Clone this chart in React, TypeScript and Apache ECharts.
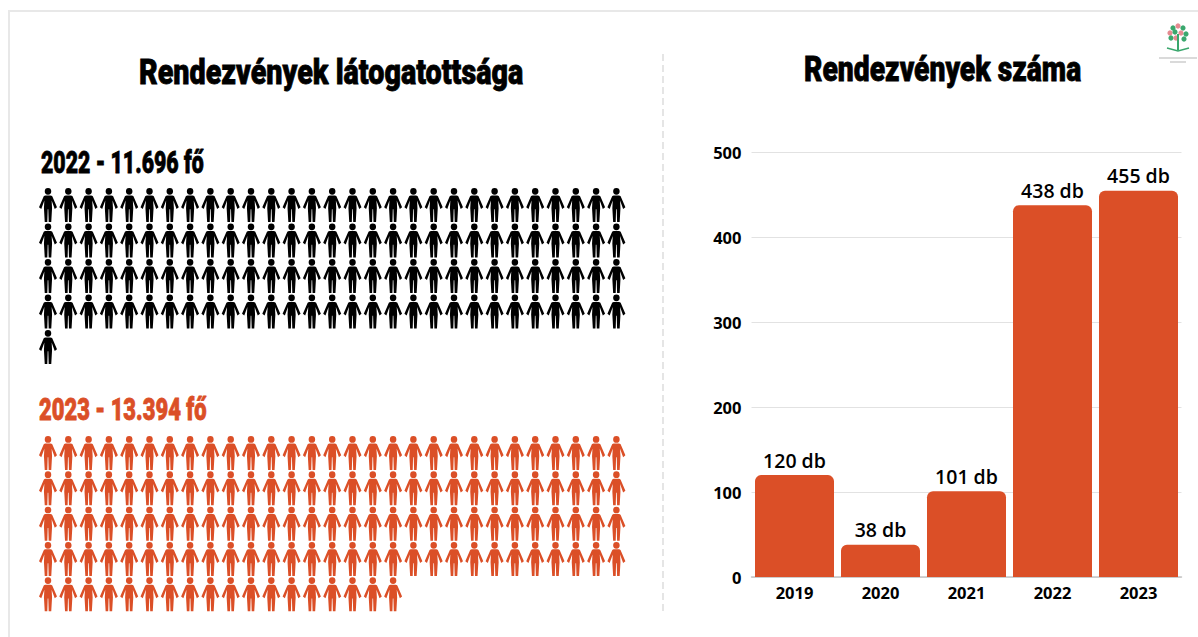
import React, { useEffect, useRef } from "react";
import * as echarts from "echarts";

const ORANGE = "#DB4F27";
const leftTitle = "Rendezvények látogatottsága";
const rightTitle = "Rendezvények száma";
const label2022 = "2022 - 11.696 fő";
const label2023 = "2023 - 13.394 fő";
const rows2022 = [29, 29, 29, 29, 1];
const rows2023 = [29, 29, 29, 29, 18];
const years = ["2019", "2020", "2021", "2022", "2023"];
const events = [120, 38, 101, 438, 455];

const PERSON =
  "path://M5.8 3.3a3.3 3.3 0 1 0 6.6 0a3.3 3.3 0 1 0 -6.6 0Z" +
  "M6.6 7.3L11.6 7.3Q12.8 7.3 13.4 8.2L18.2 19L15.9 20.8L12.8 12.4L13.2 20L12.4 33.5L9.8 33.5L9.4 21L8.8 21L8.4 33.5L5.8 33.5L5 20L5.4 12.4L2.3 20.8L0 19L4.8 8.2Q5.4 7.3 6.6 7.3Z";

const expand = (rows: number[]) =>
  rows.flatMap((n, r) => Array.from({ length: n }, (_, c) => [c, r]));

const hiddenX = (gridIndex: number) => ({
  type: "value", gridIndex, min: -0.5, max: 28.5, show: false,
});
const hiddenY = (gridIndex: number) => ({
  type: "value", gridIndex, min: -0.5, max: 4.5, inverse: true, show: false,
});

const heading = (text: string, x: number, y: number, size: number, fill: string, scaleX: number) => ({
  type: "text", x, y, scaleX,
  style: {
    text, fill, fontFamily: "Roboto", fontWeight: 900, fontSize: size, stroke: fill, lineWidth: 0.8,
    textVerticalAlign: "middle",
  },
});

const leaves: [number, number, string][] = [
  [1173, 28, "#3aa76d"], [1178, 26, "#e58a90"], [1183, 28, "#3aa76d"],
  [1170, 33, "#e58a90"], [1175, 32, "#3aa76d"], [1181, 33, "#e58a90"], [1186, 34, "#3aa76d"],
  [1171, 38, "#3aa76d"], [1176, 38, "#e58a90"], [1184, 39, "#3aa76d"],
];

export default function App() {
  const ref = useRef<HTMLDivElement>(null);
  useEffect(() => {
    const chart = echarts.init(ref.current!, undefined, { renderer: "svg" });
    chart.setOption({
      animation: false,
      backgroundColor: "#fff",
      grid: [
        { left: 37.85, top: 187.25, width: 588.7, height: 177.5 },
        { left: 37.85, top: 435.4, width: 588.7, height: 176.5 },
        { left: 751.5, top: 152.5, width: 430, height: 424.5 },
      ],
      xAxis: [
        hiddenX(0), hiddenX(1),
        {
          type: "category", gridIndex: 2, data: years,
          axisTick: { show: false },
          axisLine: { lineStyle: { color: "#c4c4c4", width: 1.5 } },
          axisLabel: { color: "#000", fontFamily: "'Open Sans'", fontWeight: "bold", fontSize: 16.5, margin: 7 },
        },
      ],
      yAxis: [
        hiddenY(0), hiddenY(1),
        {
          type: "value", gridIndex: 2, min: 0, max: 500, interval: 100,
          axisLine: { show: false }, axisTick: { show: false },
          splitLine: { lineStyle: { color: "#e2e2e2", width: 1 } },
          axisLabel: { color: "#000", fontFamily: "'Open Sans'", fontWeight: "bold", fontSize: 16.5, margin: 10 },
        },
      ],
      series: [
        {
          type: "scatter", xAxisIndex: 0, yAxisIndex: 0, data: expand(rows2022),
          symbol: PERSON, symbolSize: [18, 34], itemStyle: { color: "#000", opacity: 1 },
        },
        {
          type: "scatter", xAxisIndex: 1, yAxisIndex: 1, data: expand(rows2023),
          symbol: PERSON, symbolSize: [18, 34], itemStyle: { color: ORANGE, opacity: 1 },
        },
        {
          type: "bar", xAxisIndex: 2, yAxisIndex: 2, data: events, barWidth: 79,
          itemStyle: { color: ORANGE, borderRadius: [6, 6, 0, 0] },
          label: {
            show: true, position: "top", distance: 5, formatter: "{c} db", color: "#000",
            fontFamily: "'Open Sans'", fontWeight: 600, fontSize: 19.5,
          },
        },
      ],
      graphic: [
        { type: "rect", shape: { x: 9, y: 11, width: 1200, height: 640 }, style: { fill: "none", stroke: "#e8e8e8", lineWidth: 2 } },
        { type: "line", shape: { x1: 663, y1: 54, x2: 663, y2: 611 }, style: { stroke: "#d4d4d4", lineWidth: 1.2, lineDash: [7, 4] } },
        heading(leftTitle, 139, 72, 36, "#000", 0.797),
        heading(rightTitle, 804, 69, 36, "#000", 0.785),
        heading(label2022, 41, 162, 31, "#000", 0.687),
        heading(label2023, 39, 410, 31, ORANGE, 0.708),
        ...leaves.map(([cx, cy, fill]) => ({ type: "circle", shape: { cx, cy, r: 2.6 }, style: { fill } })),
        { type: "line", shape: { x1: 1178, y1: 34, x2: 1178, y2: 50 }, style: { stroke: "#3aa76d", lineWidth: 2 } },
        { type: "polyline", shape: { points: [[1167, 48], [1178, 51], [1189, 48]] }, style: { stroke: "#3aa76d", lineWidth: 1.5, fill: "none" } },
        { type: "line", shape: { x1: 1159, y1: 58, x2: 1197, y2: 58 }, style: { stroke: "#b5b5b5", lineWidth: 1 } },
        { type: "line", shape: { x1: 1170, y1: 62, x2: 1186, y2: 62 }, style: { stroke: "#b5b5b5", lineWidth: 1 } },
      ],
    });
    return () => chart.dispose();
  }, []);
  return <div ref={ref} style={{ position: "absolute", left: 0, top: 0, width: 1198, height: 637 }} />;
}
